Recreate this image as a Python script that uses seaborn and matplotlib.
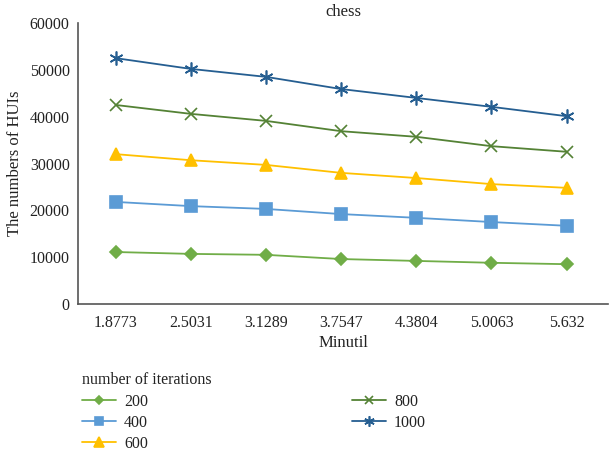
import matplotlib
matplotlib.use("Agg")
import matplotlib.pyplot as plt
import seaborn as sns
import pandas as pd

minutil = ["1.8773", "2.5031", "3.1289", "3.7547", "4.3804", "5.0063", "5.632"]
iterations = ["200", "400", "600", "800", "1000"]
huis_200 = [11100, 10700, 10500, 9600, 9200, 8800, 8500]
huis_400 = [21800, 20900, 20300, 19200, 18400, 17500, 16700]
huis_600 = [32000, 30700, 29700, 28000, 26900, 25600, 24800]
huis_800 = [42500, 40600, 39100, 36900, 35700, 33700, 32500]
huis_1000 = [52500, 50200, 48500, 45900, 44000, 42100, 40100]

series = [huis_200, huis_400, huis_600, huis_800, huis_1000]

sns.set_theme(style="white")
plt.rcParams["font.family"] = ["Liberation Serif", "DejaVu Serif"]

palette = {"200": "#70AD47", "400": "#5B9BD5", "600": "#FFC000",
           "800": "#548235", "1000": "#255E91"}
markers = {"200": "D", "400": "s", "600": "^", "800": "x", "1000": (6, 2, 0)}
sizes = {"200": 6, "400": 8, "600": 9, "800": 8, "1000": 10}

fig = plt.figure(figsize=(6.13, 4.51), dpi=100)
ax = fig.add_axes([78 / 613, 1 - 304 / 451, (608 - 78) / 613, (304 - 23) / 451])

for it, vals in zip(iterations, series):
    d = pd.DataFrame({"pos": range(len(minutil)), "HUIs": vals})
    sns.lineplot(data=d, x="pos", y="HUIs", color=palette[it], marker=markers[it],
                 markersize=sizes[it], markeredgewidth=1.2,
                 markeredgecolor=palette[it], linewidth=1.3, label=it, ax=ax)

ax.set_xlim(-0.5, 6.55)
ax.set_ylim(0, 60000)
ax.set_yticks(range(0, 60001, 10000))
ax.set_xticks(range(len(minutil)))
ax.set_xticklabels(minutil)
ax.tick_params(axis="both", length=0, labelsize=11.5, colors="#222222")
ax.tick_params(axis="x", pad=8)
ax.tick_params(axis="y", pad=6)
for s in ("top", "right"):
    ax.spines[s].set_visible(False)
for s in ("left", "bottom"):
    ax.spines[s].set_color("#555555")
    ax.spines[s].set_linewidth(1.2)

ax.set_xlabel("Minutil", fontsize=12, color="#222222", labelpad=3)
ax.set_ylabel("The numbers of HUIs", fontsize=12, color="#222222", labelpad=5)
ax.set_title("chess", fontsize=12, color="#222222", pad=5)

handles, labels = ax.get_legend_handles_labels()
ax.legend_.remove()
leg = fig.legend(handles, labels, title="number of iterations", ncol=2,
                 loc="upper left", bbox_to_anchor=(76 / 613, 1 - 366 / 451),
                 frameon=False, fontsize=11.5, title_fontsize=11.5,
                 handlelength=2.1, handletextpad=0.5, columnspacing=12.8,
                 labelspacing=0.32, alignment="left", markerscale=0.75,
                 borderaxespad=0)
for t in leg.get_texts():
    t.set_color("#222222")
leg.get_title().set_color("#222222")

fig.savefig("out.png", dpi=100)
